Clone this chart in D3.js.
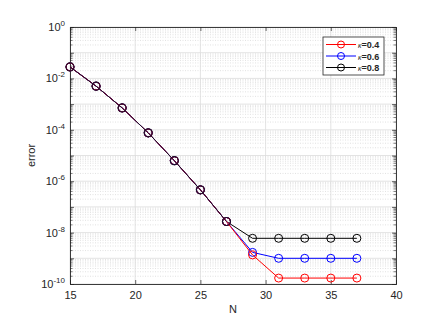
<!DOCTYPE html>
<html>
<head>
<meta charset="utf-8">
<script src="https://cdn.jsdelivr.net/npm/d3@7"></script>
<style>
  body { margin: 0; background: #fff; }
  text { font-family: "Liberation Sans", Arial, sans-serif; }
</style>
</head>
<body>
<svg id="chart" width="433" height="319"></svg>
<script>
const N = [15, 17, 19, 21, 23, 25, 27, 29, 31, 33, 35, 37];
const err04 = [2.8e-2, 5.0e-3, 7.1e-4, 7.6e-5, 6.3e-6, 4.6e-7, 2.7e-8, 1.35e-9, 1.7e-10, 1.7e-10, 1.7e-10, 1.7e-10];
const err06 = [2.8e-2, 5.0e-3, 7.1e-4, 7.6e-5, 6.3e-6, 4.6e-7, 2.7e-8, 1.7e-9, 1.0e-9, 1.0e-9, 1.0e-9, 1.0e-9];
const err08 = [2.8e-2, 5.0e-3, 7.1e-4, 7.6e-5, 6.3e-6, 4.6e-7, 2.7e-8, 6.0e-9, 6.0e-9, 6.0e-9, 6.0e-9, 6.0e-9];
const kappas = ['0.4', '0.6', '0.8'];
const colors = ['#ff0000', '#0000ff', '#000000'];
const xTicks = [15, 20, 25, 30, 35, 40];
const yExp = [0, -2, -4, -6, -8, -10];

const series = [err04, err06, err08];
const svg = d3.select('#chart');
const mLeft = 70, mRight = 396, mTop = 27, mBottom = 284;

const x = d3.scaleLinear().domain([15, 40]).range([mLeft, mRight]);
const y = d3.scaleLog().domain([1e-10, 1]).range([mBottom, mTop]);

// minor grid (dotted)
const minor = [];
for (let e = -10; e < 0; e++) for (let m = 2; m <= 9; m++) minor.push(m * Math.pow(10, e));
const grid = svg.append('g');
grid.selectAll('.minor').data(minor).join('line')
  .attr('x1', mLeft).attr('x2', mRight)
  .attr('y1', d => y(d)).attr('y2', d => y(d))
  .attr('stroke', '#cfcfcf').attr('stroke-width', 0.6).attr('stroke-dasharray', '1,1.5');
// major grid
const majorY = d3.range(-10, 1).map(e => Math.pow(10, e));
grid.selectAll('.majy').data(majorY).join('line')
  .attr('x1', mLeft).attr('x2', mRight)
  .attr('y1', d => y(d)).attr('y2', d => y(d))
  .attr('stroke', '#dcdcdc').attr('stroke-width', 0.8);
grid.selectAll('.majx').data(xTicks).join('line')
  .attr('x1', d => x(d)).attr('x2', d => x(d))
  .attr('y1', mTop).attr('y2', mBottom)
  .attr('stroke', '#dcdcdc').attr('stroke-width', 0.8);

// axes
const axCol = '#262626';
const gx = svg.append('g').attr('transform', `translate(0,${mBottom})`)
  .call(d3.axisBottom(x).tickValues(xTicks).tickSize(-4).tickPadding(7));
const gxt = svg.append('g').attr('transform', `translate(0,${mTop})`)
  .call(d3.axisTop(x).tickValues(xTicks).tickSize(-4).tickFormat(''));
const gy = svg.append('g').attr('transform', `translate(${mLeft},0)`)
  .call(d3.axisLeft(y).tickValues(majorY).tickSize(-4).tickFormat(''));
const gyr = svg.append('g').attr('transform', `translate(${mRight},0)`)
  .call(d3.axisRight(y).tickValues(majorY).tickSize(-4).tickFormat(''));
// minor y ticks
[mLeft, mRight].forEach(px => {
  const s = px === mLeft ? 1 : -1;
  svg.append('g').selectAll('line').data(minor).join('line')
    .attr('x1', px).attr('x2', px + s * 2.5)
    .attr('y1', d => y(d)).attr('y2', d => y(d))
    .attr('stroke', axCol).attr('stroke-width', 0.6);
});
[gx, gxt, gy, gyr].forEach(g => {
  g.select('.domain').attr('stroke', axCol).attr('stroke-width', 0.9);
  g.selectAll('.tick line').attr('stroke', axCol).attr('stroke-width', 0.7);
});
gx.selectAll('text').attr('font-size', 11).attr('fill', axCol);

// y tick labels 10^n
const yl = svg.append('g');
yExp.forEach(e => {
  const t = yl.append('text').attr('x', mLeft - 5).attr('y', y(Math.pow(10, e)) + 4)
    .attr('text-anchor', 'end').attr('font-size', 11).attr('fill', axCol);
  t.append('tspan').text('10');
  t.append('tspan').attr('dy', -5).attr('font-size', 8).text(e);
});

// axis labels
svg.append('text').attr('x', (mLeft + mRight) / 2).attr('y', 313)
  .attr('text-anchor', 'middle').attr('font-size', 11).attr('fill', axCol).text('N');
svg.append('text').attr('transform', `translate(35,${(mTop + mBottom) / 2}) rotate(-90)`)
  .attr('text-anchor', 'middle').attr('font-size', 11).attr('fill', axCol).text('error');

// lines, drawn black last
const line = d3.line().x((d, i) => x(N[i])).y(d => y(d));
[2, 1, 0].forEach(k => {
  const g = svg.append('g');
  g.append('path').datum(series[k]).attr('d', line)
    .attr('fill', 'none').attr('stroke', colors[k]).attr('stroke-width', 1);
  g.selectAll('circle').data(series[k]).join('circle')
    .attr('cx', (d, i) => x(N[i])).attr('cy', d => y(d)).attr('r', 4)
    .attr('fill', 'none').attr('stroke', colors[k]).attr('stroke-width', 1);
});
// common early segment appears dark on top
svg.append('path').datum(err08.slice(0, 7)).attr('d', line)
  .attr('fill', 'none').attr('stroke', '#1a1030').attr('stroke-width', 1);
svg.append('g').selectAll('circle').data(err08.slice(0, 7)).join('circle')
  .attr('cx', (d, i) => x(N[i])).attr('cy', d => y(d)).attr('r', 4)
  .attr('fill', 'none').attr('stroke', '#1a1030').attr('stroke-width', 1.2);

// legend
const lg = svg.append('g').attr('transform', 'translate(323,37)');
lg.append('rect').attr('width', 61).attr('height', 38)
  .attr('fill', '#fff').attr('stroke', axCol).attr('stroke-width', 0.8);
kappas.forEach((k, i) => {
  const yy = 7.5 + i * 11.5;
  lg.append('line').attr('x1', 3).attr('x2', 33).attr('y1', yy).attr('y2', yy)
    .attr('stroke', colors[i]).attr('stroke-width', 1);
  lg.append('circle').attr('cx', 18).attr('cy', yy).attr('r', 3.5)
    .attr('fill', 'none').attr('stroke', colors[i]).attr('stroke-width', 1);
  const t = lg.append('text').attr('x', 35).attr('y', yy + 3.5)
    .attr('font-size', 9).attr('fill', axCol);
  t.append('tspan').attr('font-style', 'italic').attr('font-size', 7).text('κ');
  t.append('tspan').attr('font-weight', 'bold').text('=' + k);
});
</script>
</body>
</html>
